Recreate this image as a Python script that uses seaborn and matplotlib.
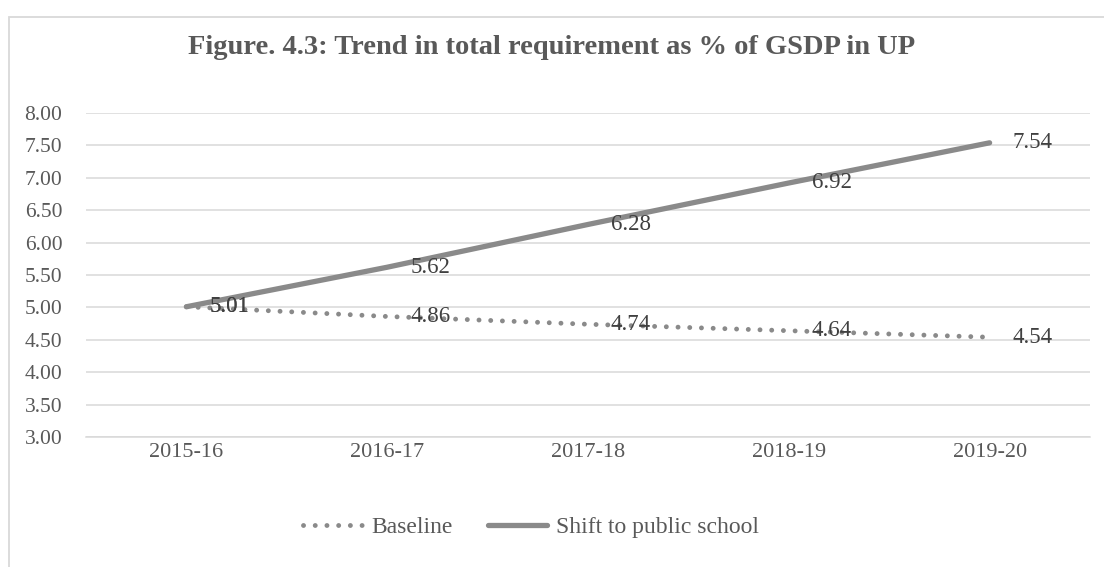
import matplotlib
matplotlib.use("Agg")
import matplotlib.pyplot as plt
import matplotlib.patches as mpatches
import pandas as pd
import seaborn as sns

# Data
years = ["2015-16", "2016-17", "2017-18", "2018-19", "2019-20"]
baseline = [5.01, 4.86, 4.74, 4.64, 4.54]
shift_public = [5.01, 5.62, 6.28, 6.92, 7.54]
series_names = ["Baseline", "Shift to public school"]
y_ticks = [3.00, 3.50, 4.00, 4.50, 5.00, 5.50, 6.00, 6.50, 7.00, 7.50, 8.00]
title = "Figure. 4.3: Trend in total requirement as % of GSDP in UP"

TEXT = "#595959"
LINE = "#8a8a8a"
GRID = "#d9d9d9"

sns.set_theme(style="white")
plt.rcParams["font.family"] = ["Liberation Serif", "DejaVu Serif"]

df = pd.DataFrame({
    "year": years * 2,
    "value": baseline + shift_public,
    "series": [series_names[0]] * len(years) + [series_names[1]] * len(years),
})

fig = plt.figure(figsize=(11.04, 5.67), dpi=100)
ax = fig.add_axes([86 / 1104, 1 - 437 / 567, (1090 - 86) / 1104, (437 - 113) / 567])

sns.lineplot(data=df[df["series"] == series_names[0]], x="year", y="value",
             ax=ax, color=LINE, linewidth=3.5, sort=False,
             linestyle=(0, (0.01, 2.4)), dash_capstyle="round",
             label=series_names[0])
sns.lineplot(data=df[df["series"] == series_names[1]], x="year", y="value",
             ax=ax, color=LINE, linewidth=3.8, sort=False,
             solid_capstyle="round", label=series_names[1])

# Value labels to the right of each point
for vals in (baseline, shift_public):
    for i, v in enumerate(vals):
        ax.annotate(f"{v:.2f}", (i, v), xytext=(16.5, 0), textcoords="offset points",
                    ha="left", va="center", fontsize=16.5, color="#404040")

ax.set_xlim(-0.5, len(years) - 0.5)
ax.set_ylim(3.0, 8.0)
ax.set_yticks(y_ticks)
ax.set_yticklabels([f"{t:.2f}" for t in y_ticks])
ax.set_xlabel("")
ax.set_ylabel("")
ax.grid(axis="y", color=GRID, linewidth=1.1)
ax.grid(axis="x", visible=False)
ax.set_axisbelow(True)
for s in ax.spines.values():
    s.set_visible(False)
ax.spines["bottom"].set_visible(True)
ax.spines["bottom"].set_color(GRID)
ax.spines["bottom"].set_linewidth(1.1)
ax.tick_params(axis="y", length=0, pad=17, labelsize=15.5, labelcolor=TEXT)
ax.tick_params(axis="x", length=0, pad=4, labelsize=16, labelcolor=TEXT)

fig.text(0.5, 1 - 47 / 567, title, ha="center", va="center",
         fontsize=20.5, fontweight="bold", color=TEXT)

leg = ax.legend(loc="center", bbox_to_anchor=(531 / 1104, 1 - 527 / 567),
                bbox_transform=fig.transFigure, ncol=2, frameon=False,
                fontsize=17, handlelength=2.5, columnspacing=1.5, handletextpad=0.4)
for t in leg.get_texts():
    t.set_color(TEXT)

# Chart-area border
fig.add_artist(mpatches.Rectangle((9 / 1104, -0.1), 1.2, 1.1 - 17 / 567,
                                  transform=fig.transFigure, fill=False,
                                  edgecolor=GRID, linewidth=1.3))

fig.savefig("out.png", dpi=100)
